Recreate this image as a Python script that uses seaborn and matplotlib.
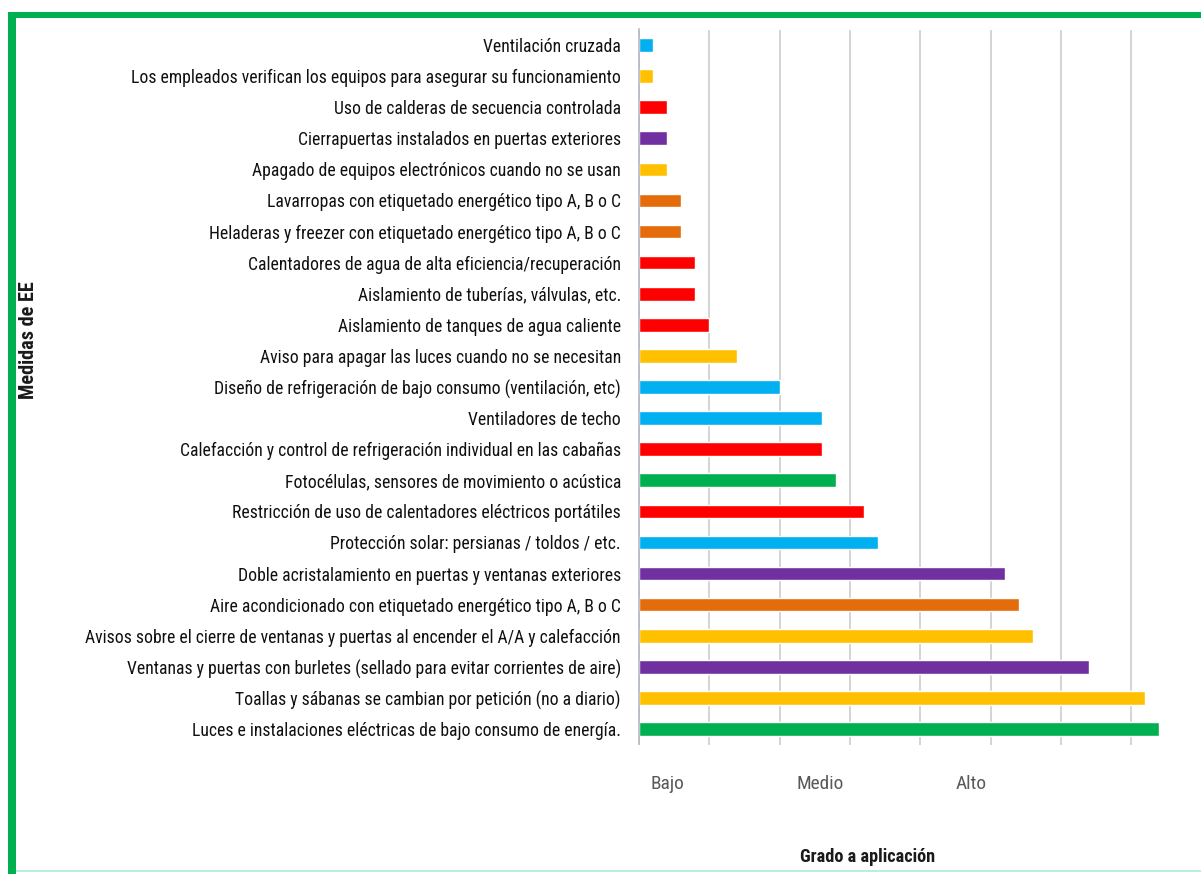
import matplotlib
matplotlib.use("Agg")
import matplotlib.pyplot as plt
from matplotlib.patches import Rectangle
from matplotlib.ticker import MultipleLocator
from matplotlib import font_manager
import seaborn as sns
import pandas as pd

# Energy-efficiency measures (top to bottom) and how many establishments apply them
medidas = [
    "Ventilación cruzada",
    "Los empleados verifican los equipos para asegurar su funcionamiento",
    "Uso de calderas de secuencia controlada",
    "Cierrapuertas instalados en puertas exteriores",
    "Apagado de equipos electrónicos cuando no se usan",
    "Lavarropas con etiquetado energético tipo A, B o C",
    "Heladeras y freezer con etiquetado energético tipo A, B o C",
    "Calentadores de agua de alta eficiencia/recuperación",
    "Aislamiento de tuberías, válvulas, etc.",
    "Aislamiento de tanques de agua caliente",
    "Aviso para apagar las luces cuando no se necesitan",
    "Diseño de refrigeración de bajo consumo (ventilación, etc)",
    "Ventiladores de techo",
    "Calefacción y control de refrigeración individual en las cabañas",
    "Fotocélulas, sensores de movimiento o acústica",
    "Restricción de uso de calentadores eléctricos portátiles",
    "Protección solar: persianas / toldos / etc.",
    "Doble acristalamiento en puertas y ventanas exteriores",
    "Aire acondicionado con etiquetado energético tipo A, B o C",
    "Avisos sobre el cierre de ventanas y puertas al encender el A/A y calefacción",
    "Ventanas y puertas con burletes (sellado para evitar corrientes de aire)",
    "Toallas y sábanas se cambian por petición (no a diario)",
    "Luces e instalaciones eléctricas de bajo consumo de energía.",
]
valores = [1, 1, 2, 2, 2, 3, 3, 4, 4, 5, 7, 10, 13, 13, 14, 16, 17, 26, 27, 28, 32, 36, 37]
grupos = [
    "Refrigeración", "Gestión", "Calefacción", "Envolvente", "Gestión",
    "Electrodomésticos", "Electrodomésticos", "Calefacción", "Calefacción", "Calefacción",
    "Gestión", "Refrigeración", "Refrigeración", "Calefacción", "Iluminación",
    "Calefacción", "Refrigeración", "Envolvente", "Electrodomésticos", "Gestión",
    "Envolvente", "Gestión", "Iluminación",
]
colores_grupo = {
    "Refrigeración": "#00B0F0",
    "Gestión": "#FFC000",
    "Calefacción": "#FF0000",
    "Envolvente": "#7030A0",
    "Electrodomésticos": "#E46C0A",
    "Iluminación": "#00B050",
}
niveles = ["Bajo", "Medio", "Alto"]
pos_niveles = [2.0, 12.9, 23.6]

df = pd.DataFrame({"Medida": medidas, "Valor": valores, "Grupo": grupos})

# Prefer a narrow face for the long labels
instaladas = {f.name for f in font_manager.fontManager.ttflist}
preferidas = ["Liberation Sans Narrow", "DejaVu Sans Condensed", "Roboto Condensed",
              "Open Sans Condensed", "Lato", "Liberation Sans"]
fuente = next((f for f in preferidas if f in instaladas), "DejaVu Sans")

sns.set_theme(style="white")
plt.rcParams["font.family"] = [fuente, "DejaVu Sans"]

W, H = 1201, 874
X0, PX_POR_UNIDAD, XMAX = 639, 70.3 / 5, 39.5
fig = plt.figure(figsize=(W / 100, H / 100), dpi=100)
fig.patch.set_facecolor("white")

ax = fig.add_axes([X0 / W, 1 - 744.5 / H, XMAX * PX_POR_UNIDAD / W, (744.5 - 29.5) / H])
sns.barplot(
    data=df, x="Valor", y="Medida", hue="Grupo", palette=colores_grupo,
    dodge=False, width=0.44, legend=False, orient="h", ax=ax, saturation=1,
)

ax.set_xlim(0, XMAX)
ax.xaxis.set_major_locator(MultipleLocator(5))
ax.grid(axis="x", color="#C9C9C9", linewidth=1.1)
ax.set_axisbelow(True)
ax.set_xticklabels([])
ax.tick_params(axis="x", length=0)
ax.tick_params(axis="y", length=0, pad=13, labelsize=12.5, labelcolor="#101010")
ax.set_xlabel("")
ax.set_ylabel("")
for s in ["top", "right", "bottom"]:
    ax.spines[s].set_visible(False)
ax.spines["left"].set_color("#AEB4BE")
ax.spines["left"].set_linewidth(1.1)

# Qualitative scale under the bars
etiquetas_nivel = []
for pos, txt in zip(pos_niveles, niveles):
    etiquetas_nivel.append(ax.text(pos, -0.055, txt, transform=ax.get_xaxis_transform(),
                                   ha="center", va="center", fontsize=12.5, color="#595959"))

t_x = fig.text(868 / W, 1 - 857 / H, "Grado a aplicación", ha="center", va="center",
               fontsize=11.5, fontweight="bold", color="#1A1A1A")
t_y = fig.text(29 / W, 1 - 340 / H, "Medidas de EE", rotation=90, ha="center", va="center",
               fontsize=11, fontweight="bold", color="#1A1A1A")

# Fit text sizes to the available room
fig.canvas.draw()
rend = fig.canvas.get_renderer()
ancho = max(l.get_window_extent(rend).width for l in ax.get_yticklabels())
ax.tick_params(axis="y", labelsize=12.5 * 538 / ancho)
w = t_x.get_window_extent(rend).width
t_x.set_fontsize(11.5 * 136 / w)
h = t_y.get_window_extent(rend).height
t_y.set_fontsize(11 * 118 / h)
w = etiquetas_nivel[1].get_window_extent(rend).width
for t in etiquetas_nivel:
    t.set_fontsize(12.5 * 48 / w)

# Green frame around the figure
fig.add_artist(Rectangle((8 / W, 1 - 18 / H), 1.0, 6 / H, transform=fig.transFigure,
                         facecolor="#00B050", edgecolor="none"))
fig.add_artist(Rectangle((8 / W, 0), 8 / W, 1 - 12 / H, transform=fig.transFigure,
                         facecolor="#00B050", edgecolor="none"))
fig.add_artist(Rectangle((16 / W, 2 / H), 1.0, 2 / H, transform=fig.transFigure,
                         facecolor="#B8F0E0", edgecolor="none"))

fig.savefig("out.png", dpi=100)
